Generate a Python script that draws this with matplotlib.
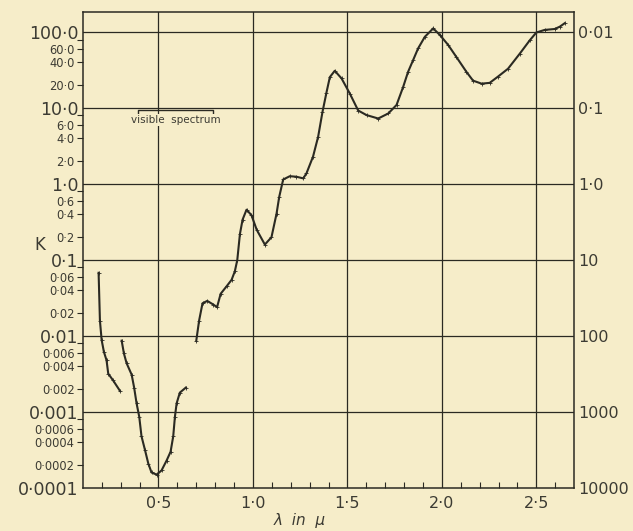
import matplotlib
matplotlib.use("Agg")
import matplotlib.pyplot as plt
from matplotlib.ticker import FixedLocator, FixedFormatter

# ---- data (wavelength in micron, absorption coefficient K) ----
seg1_wl = [0.183, 0.19, 0.199, 0.211, 0.225, 0.234, 0.26, 0.296]
seg1_k = [0.068, 0.016, 0.0089, 0.0062, 0.0048, 0.0032, 0.0026, 0.0019]

seg2_wl = [0.305, 0.317, 0.331, 0.358, 0.371, 0.384, 0.398, 0.41, 0.428, 0.446,
           0.463, 0.49, 0.516, 0.543, 0.564, 0.578, 0.587, 0.596, 0.613, 0.645]
seg2_k = [0.0087, 0.0059, 0.0044, 0.0031, 0.0021, 0.0013, 0.00087, 0.00048, 0.00032, 0.00021,
          0.00016, 0.00015, 0.00017, 0.00023, 0.0003, 0.00048, 0.00087, 0.0013, 0.0018, 0.0021]

seg3_wl = [0.70, 0.715, 0.733, 0.758, 0.79, 0.81, 0.829, 0.86, 0.887, 0.904, 0.917,
           0.931, 0.945, 0.966, 0.992, 1.02, 1.063, 1.098, 1.125, 1.139, 1.16, 1.195,
           1.23, 1.266, 1.283, 1.318, 1.345, 1.368, 1.389, 1.407, 1.433, 1.469, 1.513,
           1.557, 1.601, 1.663, 1.716, 1.76, 1.795, 1.821, 1.848, 1.874, 1.91, 1.954,
           1.989, 2.033, 2.077, 2.13, 2.165, 2.21, 2.253, 2.297, 2.35, 2.412, 2.465,
           2.5, 2.544, 2.597, 2.624, 2.65]
seg3_k = [0.0087, 0.016, 0.027, 0.029, 0.026, 0.024, 0.036, 0.045, 0.055, 0.071, 0.1,
          0.22, 0.34, 0.46, 0.39, 0.25, 0.16, 0.2, 0.41, 0.68, 1.15, 1.27,
          1.25, 1.19, 1.38, 2.3, 4.2, 8.9, 16, 25.6, 31, 24.6, 15.5,
          9.3, 8.1, 7.3, 8.5, 11, 19, 30, 43, 61, 87, 112,
          92, 68, 47, 30, 23, 21, 21.5, 26, 33, 52, 78,
          99, 107, 110, 118, 131]

x_major = [0.5, 1.0, 1.5, 2.0, 2.5]
x_major_labels = ["0·5", "1·0", "1·5", "2·0", "2·5"]
y_decades = [1e-4, 1e-3, 1e-2, 1e-1, 1, 10, 100]
y_decade_labels = ["0·0001", "0·001", "0·01", "0·1", "1·0", "10·0", "100·0"]
y_minor = [2e-4, 4e-4, 6e-4, 8e-4, 2e-3, 4e-3, 6e-3, 8e-3, 2e-2, 4e-2, 6e-2, 8e-2,
           0.2, 0.4, 0.6, 0.8, 2, 4, 6, 8, 20, 40, 60, 80]
y_minor_labels = ["0·0002", "0·0004", "0·0006", "", "0·002", "0·004", "0·006", "",
                  "0·02", "0·04", "0·06", "", "0·2", "0·4", "0·6", "", "2·0", "4·0", "6·0", "",
                  "20·0", "40·0", "60·0", ""]
right_labels = ["10000", "1000", "100", "10", "1·0", "0·1", "0·01"]

bg = "#F6EDC9"
ink = "#2b2a22"
txt = "#3c3b33"

fig = plt.figure(figsize=(6.33, 5.31), dpi=100, facecolor=bg)
ax = fig.add_axes([0.131, 0.081, 0.776, 0.896], facecolor=bg)
ax.set_yscale("log")
ax.set_xlim(0.1, 2.7)
ax.set_ylim(1e-4, 183)

for wl, k in [(seg1_wl, seg1_k), (seg2_wl, seg2_k), (seg3_wl, seg3_k)]:
    ax.plot(wl, k, color=ink, lw=1.5, marker="+", ms=3, mew=0.6, zorder=3)

# grid
for xv in x_major:
    ax.axvline(xv, color=ink, lw=0.9, zorder=1)
for yv in y_decades[1:]:
    ax.axhline(yv, color=ink, lw=0.9, zorder=1)

for s in ax.spines.values():
    s.set_color(ink)
    s.set_linewidth(1.1)

# x ticks
ax.xaxis.set_major_locator(FixedLocator(x_major))
ax.xaxis.set_major_formatter(FixedFormatter(x_major_labels))
ax.xaxis.set_minor_locator(FixedLocator([0.2, 0.3, 0.4, 0.6, 0.7, 0.8, 0.9, 1.1, 1.2, 1.3, 1.4,
                                         1.6, 1.7, 1.8, 1.9, 2.1, 2.2, 2.3, 2.4, 2.6]))
ax.tick_params(axis="x", which="both", direction="in", top=False, colors=ink,
               labelcolor=txt, labelsize=11.5, pad=6)
ax.tick_params(axis="x", which="major", length=0)
ax.tick_params(axis="x", which="minor", length=4, width=0.8)

# y ticks
ax.yaxis.set_major_locator(FixedLocator(y_decades))
ax.yaxis.set_major_formatter(FixedFormatter(y_decade_labels))
ax.yaxis.set_minor_locator(FixedLocator(y_minor))
ax.yaxis.set_minor_formatter(FixedFormatter(y_minor_labels))
ax.tick_params(axis="y", which="major", direction="out", length=0, labelsize=12.5,
               colors=ink, labelcolor=txt, pad=3)
ax.tick_params(axis="y", which="minor", direction="out", length=4, width=0.8,
               labelsize=8.3, colors=ink, labelcolor=txt, pad=2)

# right axis (1/K)
ax2 = ax.twinx()
ax2.set_yscale("log")
ax2.set_ylim(ax.get_ylim())
ax2.yaxis.set_major_locator(FixedLocator(y_decades))
ax2.yaxis.set_major_formatter(FixedFormatter(right_labels))
ax2.yaxis.set_minor_locator(FixedLocator([]))
ax2.tick_params(axis="y", which="major", length=0, labelsize=11.5, labelcolor=txt, pad=3)
for s in ax2.spines.values():
    s.set_visible(False)

# labels
fig.text(40 / 633, 1 - 245 / 531, "K", fontsize=12, color=txt, ha="center", va="center")
fig.text(300 / 633, 1 - 521 / 531, "λ  in  μ", fontsize=11, color=txt,
         ha="center", va="center", style="italic")

# visible spectrum bracket
yb = 9.5
ax.plot([0.39, 0.39, 0.79, 0.79], [8.5, yb, yb, 8.5], color=ink, lw=1.0, zorder=4)
ax.text(0.59, 7.0, "visible  spectrum", fontsize=7.5, color=txt, ha="center", va="center",
        zorder=5, bbox=dict(facecolor=bg, edgecolor="none", pad=0.5))

fig.savefig("out.png", dpi=100, facecolor=bg)
